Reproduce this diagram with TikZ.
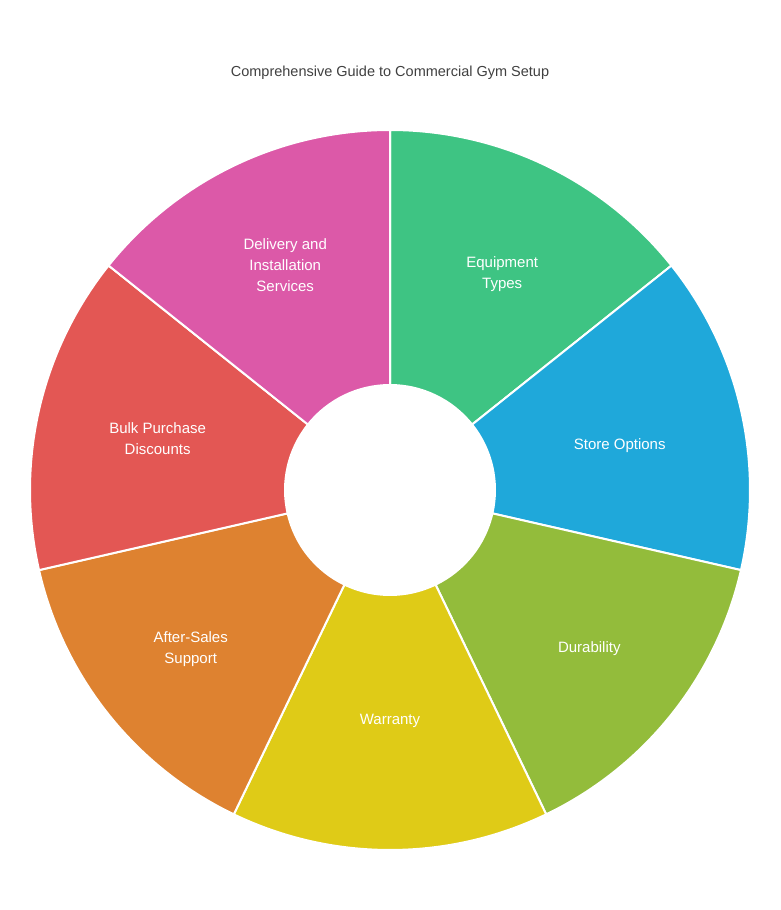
\documentclass[tikz,border=0pt]{standalone}
\usepackage{fontspec}
\setmainfont{Liberation Sans}
\definecolor{cA}{HTML}{3EC483}
\definecolor{cB}{HTML}{1FA8DA}
\definecolor{cC}{HTML}{93BC3B}
\definecolor{cD}{HTML}{DFCB17}
\definecolor{cE}{HTML}{DE8230}
\definecolor{cF}{HTML}{E35754}
\definecolor{cG}{HTML}{DC59A8}
\tikzset{lbl/.style={text=white,align=center,font=\fontsize{15}{21}\selectfont},
seg/.style={draw=white,line width=2pt,line join=round}}
\begin{document}
\begin{tikzpicture}[x=1pt,y=1pt]
\useasboundingbox (0,0) rectangle (781,-910);
\node[font=\fontsize{14.5}{17}\selectfont,text=black!75] (title) at (390,-73) {Comprehensive Guide to Commercial Gym Setup};
\begin{scope}[shift={(390,-490)}]
\foreach \c [count=\i] in {cA,cB,cC,cD,cE,cF,cG}{
  \pgfmathsetmacro{\aa}{90-(\i-1)*360/7}
  \pgfmathsetmacro{\ab}{90-\i*360/7}
  \filldraw[seg,fill=\c] (\aa:360) arc[start angle=\aa,end angle=\ab,radius=360] -- (\ab:105) arc[start angle=\ab,end angle=\aa,radius=105] -- cycle;
}
\node[lbl] (n1) at (62.5:243) {Equipment\\Types};
\node[lbl] (n2) at (11:234) {Store Options};
\node[lbl] (n3) at (-38.6:255) {Durability};
\node[lbl] (n4) at (-90:231) {Warranty};
\node[lbl] (n5) at (-141.4:255) {After-Sales\\Support};
\node[lbl] (n6) at (167.5:238) {Bulk Purchase\\Discounts};
\node[lbl] (n7) at (115:248) {Delivery and\\Installation\\Services};
\end{scope}
\end{tikzpicture}
\end{document}
